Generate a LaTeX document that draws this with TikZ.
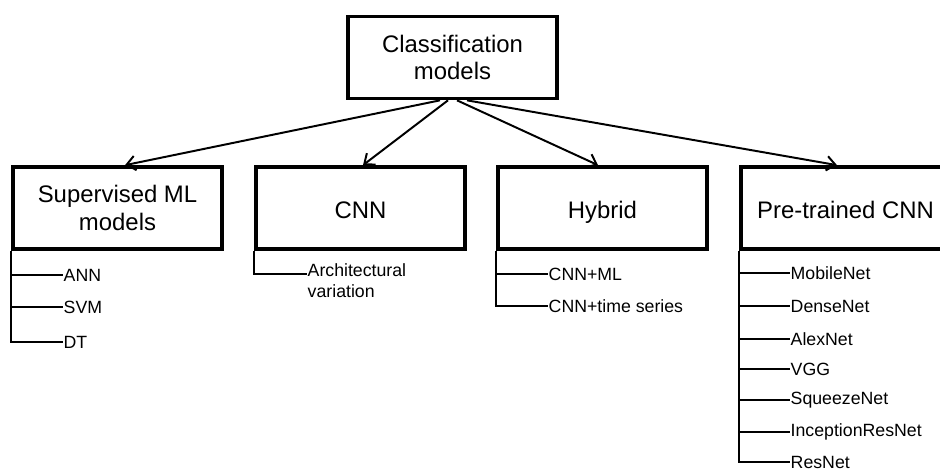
\documentclass[tikz,border=0pt]{standalone}
\usepackage{fontspec}
\setmainfont{Liberation Sans}
\usetikzlibrary{arrows.meta,calc}

\tikzset{
  box/.style={draw, line width=2.6pt, minimum width=5.225cm, minimum height=2.05cm,
    inner sep=0pt, align=center, font=\fontsize{17}{19.5}\selectfont},
  oneline/.style={text height=15pt, text depth=0pt},
  item/.style={anchor=west, inner sep=0.3pt, align=left, font=\fontsize{12.6}{15}\selectfont},
  link/.style={line width=1.4pt, -{Straight Barb[length=2.2mm,width=3.6mm]}},
  branch/.style={line width=1.6pt},
}

\begin{document}
\begin{tikzpicture}[x=0.025cm,y=-0.025cm]
\useasboundingbox (0,0) rectangle (940,471);
\clip (0,0) rectangle (940,471);

% boxes
\node[box] (top) at (452.5,57.5) {Classification\\models};
\node[box] (sup) at (117.5,208) {Supervised ML\\models};
\node[box, oneline] (cnn) at (360.5,208) {CNN};
\node[box, oneline] (hyb) at (602.5,208) {Hybrid};
\node[box, oneline] (pre) at (845.5,208) {Pre-trained CNN};

% arrows
\draw[link] ($(top.south)+(-12.5,0)$) -- ($(sup.north)+(7.5,0)$);
\draw[link] ($(top.south)+(-4.5,0)$) -- ($(cnn.north)+(2.5,0)$);
\draw[link] ($(top.south)+(4.5,0)$) -- ($(hyb.north)+(-4.5,0)$);
\draw[link] ($(top.south)+(14.5,0)$) -- ($(pre.north)+(-8.5,0)$);

% supervised ML
\node[item] (ann) at (63,275) {ANN};
\node[item] (svm) at (63,307) {SVM};
\node[item] (dt) at (63,342) {DT};
\draw[branch] (sup.south west) |- (ann.west);
\draw[branch] (sup.south west) |- (svm.west);
\draw[branch] (sup.south west) |- (dt.west);

% CNN
\coordinate (archpt) at (307,274);
\node[item, anchor=north west] (arch) at (307,263) {Architectural\\variation};
\draw[branch] (cnn.south west) |- (archpt);

% hybrid
\node[item] (cml) at (548,274) {CNN+ML};
\node[item] (cts) at (548,306) {CNN+time series};
\draw[branch] (hyb.south west) |- (cml.west);
\draw[branch] (hyb.south west) |- (cts.west);

% pre-trained
\node[item] (mob) at (790,273) {MobileNet};
\node[item] (den) at (790,306) {DenseNet};
\node[item] (alex) at (790,339) {AlexNet};
\node[item] (vgg) at (790,369) {VGG};
\node[item] (sqz) at (790,400) {SqueezeNet};
\node[item] (inc) at (790,432) {InceptionResNet};
\node[item] (res) at (790,462) {ResNet};
\draw[branch] (pre.south west) |- (mob.west);
\draw[branch] (pre.south west) |- (den.west);
\draw[branch] (pre.south west) |- (alex.west);
\draw[branch] (pre.south west) |- (vgg.west);
\draw[branch] (pre.south west) |- (sqz.west);
\draw[branch] (pre.south west) |- (inc.west);
\draw[branch] (pre.south west) |- (res.west);
\end{tikzpicture}
\end{document}
